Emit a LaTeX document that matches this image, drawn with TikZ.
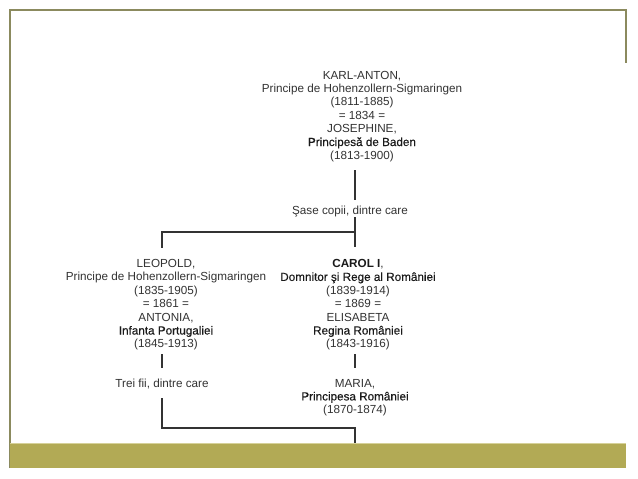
\documentclass[tikz,border=0pt]{standalone}
\usepackage{fontspec}
\setmainfont{Liberation Sans}
\newfontfamily\dkfont[FakeBold=0.3]{Liberation Sans}
\definecolor{framec}{HTML}{8B8A5E}
\definecolor{olive}{HTML}{B2AA55}
\definecolor{olivehi}{HTML}{D6D199}
\definecolor{txt}{HTML}{333333}
\definecolor{dk}{HTML}{1A1A1A}
\begin{document}
\begin{tikzpicture}[x=1pt,y=-1pt,
  blk/.style={align=center, inner sep=0pt, font=\fontsize{11.7}{13.4}\selectfont, text=txt, anchor=base},
  one/.style={inner sep=0pt, font=\fontsize{11.7}{13.4}\selectfont, text=txt, anchor=base},
  con/.style={draw=txt, line width=1.3pt}]
\useasboundingbox (0,0) rectangle (638,479);
\fill[white] (0,0) rectangle (638,479);
\draw[framec, line width=1.2pt] (10,468) -- (10,10) -- (626,10) -- (626,63);
\node[fill=olive, minimum width=616pt, minimum height=25pt, inner sep=0pt, anchor=north west] (bar) at (10,443) {};
\draw[olivehi, line width=0.8pt] (bar.north west) -- (bar.north east);

\coordinate (axL) at (162,0);
\coordinate (axR) at (355,0);
\coordinate (jR1) at (355,232);
\coordinate (jR2) at (355,428);

% base anchor of a multi-line node is the baseline of its last line
\node[blk] (karl) at (362,159.4) {KARL-ANTON,\\Principe de Hohenzollern-Sigmaringen\\(1811-1885)\\= 1834 =\\JOSEPHINE,\\{\dkfont\color{dk}Principesă de Baden}\\(1813-1900)};
\node[one, text height=14pt, text depth=3pt] (sase) at (350,214) {Şase copii, dintre care};
\node[blk] (leo) at (166,347.9) {LEOPOLD,\\Principe de Hohenzollern-Sigmaringen\\(1835-1905)\\= 1861 =\\ANTONIA,\\{\dkfont\color{dk}Infanta Portugaliei}\\(1845-1913)};
\node[blk] (carol) at (358,347.9) {{\bfseries\color{dk}CAROL I},\\{\dkfont\color{dk}Domnitor şi Rege al României}\\(1839-1914)\\= 1869 =\\ELISABETA\\{\dkfont\color{dk}Regina României}\\(1843-1916)};
\node[one, text height=19pt, text depth=11pt] (trei) at (162,387) {Trei fii, dintre care};
\node[blk] (maria) at (355,413.8) {MARIA,\\{\dkfont\color{dk}Principesa României}\\(1870-1874)};

\draw[con, shorten <=8pt] (karl.south -| axR) -- (sase.north -| axR);
\draw[con, shorten >=12pt] (sase.south -| axR) -- (carol.north -| axR);
\draw[con, shorten >=11pt] (jR1) -| (leo.north -| axL);
\draw[con, shorten <=3.5pt] (leo.south -| axL) -- (trei.north -| axL);
\draw[con, shorten <=3.5pt, shorten >=10.6pt] (carol.south -| axR) -- (maria.north -| axR);
\draw[con] (trei.south -| axL) |- (jR2) -- (bar.north -| axR);
\end{tikzpicture}
\end{document}
